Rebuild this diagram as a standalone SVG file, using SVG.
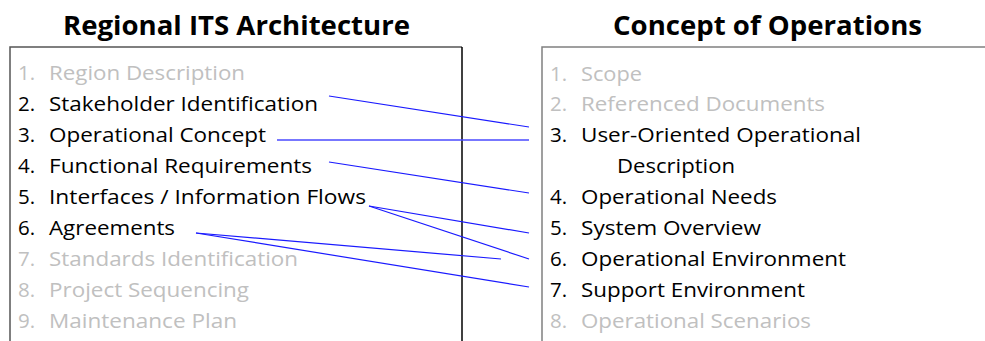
<svg xmlns="http://www.w3.org/2000/svg" width="985" height="341" viewBox="0 0 985 341">
<style>
.title{font-family:"Open Sans","Liberation Sans",sans-serif;font-weight:bold;font-size:27px;fill:#000}
.it{font-family:"Open Sans","Liberation Sans",sans-serif;font-size:20.5px}
.on{fill:#000}
.off{fill:#c0c0c0}
.conn line{stroke:#1a1aff;stroke-width:1.2}
</style>
<rect width="985" height="341" fill="#fff"/>
<g id="regional-its-architecture">
<text class="title" x="63" y="35" textLength="347" lengthAdjust="spacingAndGlyphs">Regional ITS Architecture</text>
<path d="M10,341 V47 H462" fill="none" stroke="#555" stroke-width="1.5"/>
<line x1="462" y1="47" x2="462" y2="341" stroke="#000" stroke-width="1.5"/>
<g class="it">
<text class="off" x="18" y="80">1.</text><text class="off" x="49" y="80" textLength="196" lengthAdjust="spacingAndGlyphs">Region Description</text>
<text class="on" x="18" y="111">2.</text><text class="on" x="49" y="111" textLength="269" lengthAdjust="spacingAndGlyphs">Stakeholder Identification</text>
<text class="on" x="18" y="142">3.</text><text class="on" x="49" y="142" textLength="217" lengthAdjust="spacingAndGlyphs">Operational Concept</text>
<text class="on" x="18" y="173">4.</text><text class="on" x="49" y="173" textLength="263" lengthAdjust="spacingAndGlyphs">Functional Requirements</text>
<text class="on" x="18" y="204">5.</text><text class="on" x="49" y="204" textLength="317" lengthAdjust="spacingAndGlyphs">Interfaces / Information Flows</text>
<text class="on" x="18" y="235">6.</text><text class="on" x="49" y="235" textLength="126" lengthAdjust="spacingAndGlyphs">Agreements</text>
<text class="off" x="18" y="266">7.</text><text class="off" x="49" y="266" textLength="249" lengthAdjust="spacingAndGlyphs">Standards Identification</text>
<text class="off" x="18" y="297">8.</text><text class="off" x="49" y="297" textLength="200" lengthAdjust="spacingAndGlyphs">Project Sequencing</text>
<text class="off" x="18" y="328">9.</text><text class="off" x="49" y="328" textLength="188" lengthAdjust="spacingAndGlyphs">Maintenance Plan</text>
</g>
</g>
<g id="concept-of-operations">
<text class="title" x="613" y="35" textLength="309" lengthAdjust="spacingAndGlyphs">Concept of Operations</text>
<path d="M542,341 V47 H985" fill="none" stroke="#808080" stroke-width="1.5"/>
<g class="it">
<text class="off" x="550" y="81">1.</text><text class="off" x="581" y="81" textLength="61" lengthAdjust="spacingAndGlyphs">Scope</text>
<text class="off" x="550" y="111">2.</text><text class="off" x="581" y="111" textLength="244" lengthAdjust="spacingAndGlyphs">Referenced Documents</text>
<text class="on" x="550" y="142">3.</text><text class="on" x="581" y="142" textLength="280" lengthAdjust="spacingAndGlyphs">User-Oriented Operational</text>
<text class="on" x="617" y="173" textLength="118" lengthAdjust="spacingAndGlyphs">Description</text>
<text class="on" x="550" y="204">4.</text><text class="on" x="581" y="204" textLength="196" lengthAdjust="spacingAndGlyphs">Operational Needs</text>
<text class="on" x="550" y="235">5.</text><text class="on" x="581" y="235" textLength="180" lengthAdjust="spacingAndGlyphs">System Overview</text>
<text class="on" x="550" y="266">6.</text><text class="on" x="581" y="266" textLength="265" lengthAdjust="spacingAndGlyphs">Operational Environment</text>
<text class="on" x="550" y="297">7.</text><text class="on" x="581" y="297" textLength="224" lengthAdjust="spacingAndGlyphs">Support Environment</text>
<text class="off" x="550" y="328">8.</text><text class="off" x="581" y="328" textLength="230" lengthAdjust="spacingAndGlyphs">Operational Scenarios</text>
</g>
</g>
<g id="connectors" class="conn">
<line x1="329" y1="96" x2="529" y2="127"/>
<line x1="277" y1="140" x2="529" y2="140" style="stroke:#4a4aff;stroke-width:1.5"/>
<line x1="329" y1="162" x2="529" y2="193"/>
<line x1="369" y1="206" x2="529" y2="233"/>
<line x1="369" y1="206" x2="529" y2="259"/>
<line x1="196" y1="233" x2="501" y2="259"/>
<line x1="196" y1="233" x2="529" y2="287"/>
</g>
</svg>
